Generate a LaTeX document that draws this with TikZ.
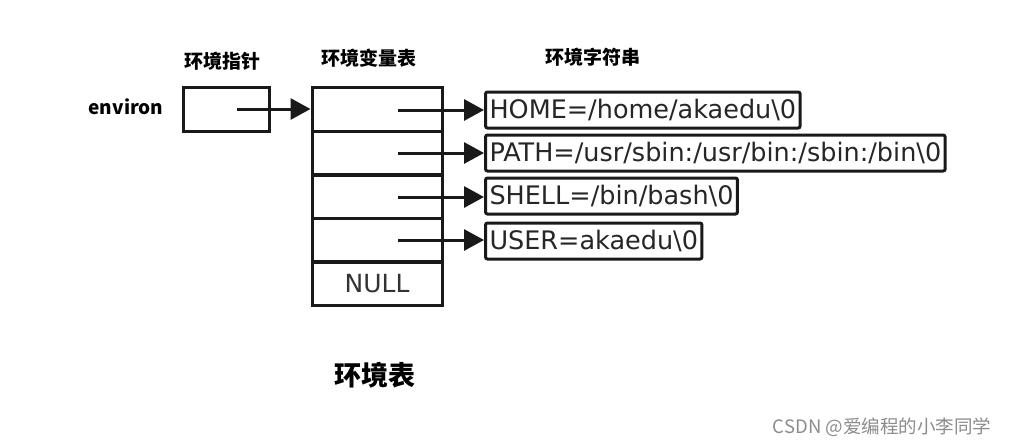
\documentclass[tikz,border=0pt]{standalone}
\usepackage{fontspec}
\setmainfont{DejaVu Sans}
\newfontfamily\cjk{Noto Sans CJK SC}
\usetikzlibrary{arrows.meta}
\begin{document}
\begin{tikzpicture}[x=1pt,y=-1pt,
  box/.style={draw=black!90, line width=3pt, inner sep=0pt},
  cell/.style={box, minimum width=130pt, minimum height=44pt, text=black!80,
    font=\fontsize{25}{25}\selectfont},
  str/.style={draw=black!90, line width=3pt, rounded corners=2pt, anchor=west,
    minimum height=36pt, inner xsep=4pt, inner ysep=0pt, text=black!85,
    font=\fontsize{25.5}{25.5}\selectfont},
  ptr/.style={line width=3pt, -{Triangle[length=20pt,width=21pt]}, black!90},
  title/.style={font=\cjk\bfseries\fontsize{19}{19}\selectfont, text=black}]
\useasboundingbox (0,0) rectangle (1011,445);
\fill[white] (0,0) rectangle (1011,445);

% titles
\node[title] (t1) at (222,61) {环境指针};
\node[title] (t2) at (369,58) {环境变量表};
\node[title] (t3) at (593,57) {环境字符串};
\node[font=\cjk\bfseries\fontsize{19}{19}\selectfont] (env) at (126,107) {environ};
\node[font=\cjk\bfseries\fontsize{27}{27}\selectfont] (tab) at (375,375) {环境表};

% pointer box
\node[box, minimum width=86pt, minimum height=44pt] (p) at (226,109) {};
\coordinate (ps) at (237,109);

% table
\node[cell] (r1) at (377,109) {};
\node[cell] (r2) at (377,153) {};
\node[cell] (r3) at (377,196.5) {};
\node[cell] (r4) at (377,240) {};
\node[cell] (r5) at (377,283.5) {NULL};
\coordinate (s1) at (398,110);
\coordinate (s2) at (398,153);
\coordinate (s3) at (398,197);
\coordinate (s4) at (398,240);

% strings
\node[str] (h) at (484,110) {HOME=/home/akaedu\textbackslash 0};
\node[str] (pa) at (484,153) {PATH=/usr/sbin:/usr/bin:/sbin:/bin\textbackslash 0};
\node[str] (sh) at (484,196) {SHELL=/bin/bash\textbackslash 0};
\node[str] (us) at (484,241) {USER=akaedu\textbackslash 0};

% arrows
\draw[ptr] (ps) -- (r1.west);
\draw[ptr] (s1) -- (s1 -| h.west);
\draw[ptr] (s2) -- (s2 -| pa.west);
\draw[ptr] (s3) -- (s3 -| sh.west);
\draw[ptr] (s4) -- (s4 -| us.west);

% watermark
\node[font=\cjk\fontsize{18.5}{18.5}\selectfont, text=black!45] (wm) at (882,427) {CSDN @爱编程的小李同学};
\end{tikzpicture}
\end{document}
